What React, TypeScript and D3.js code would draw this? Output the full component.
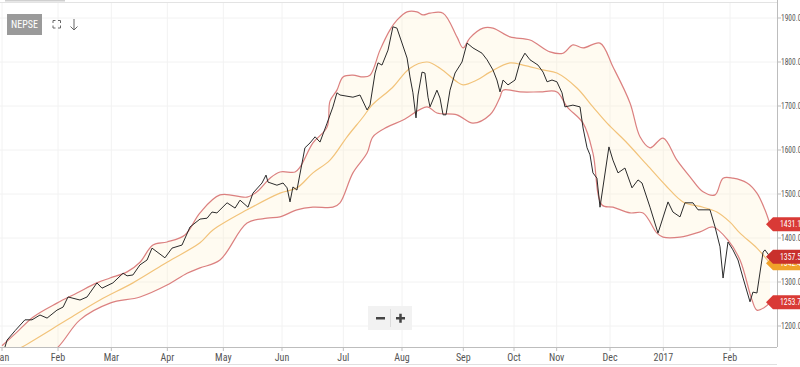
import React from "react";
import * as d3 from "d3";

// trading-day index, value
const closeSeries: [number, number][] = [
  [0, 1145], [1.1, 1152], [1.9, 1168], [5, 1190], [8.6, 1214], [11.25, 1214], [14.25, 1225], [16.9, 1218],
  [20.6, 1236], [22.9, 1243], [24.75, 1266], [29.25, 1259], [31.9, 1266], [35.6, 1298], [37.5, 1286],
  [41.6, 1298], [45.4, 1320], [46.9, 1314], [49.1, 1316], [51.75, 1339], [54.4, 1350], [56.25, 1377],
  [61.1, 1355], [63.75, 1377], [67.5, 1384], [70.5, 1425], [74.25, 1443], [76.9, 1445], [78.75, 1459],
  [80.6, 1457], [84.4, 1480], [87.4, 1468], [89.25, 1486], [92.25, 1470], [94.1, 1502], [97.5, 1525],
  [99, 1543], [99.75, 1527], [103.1, 1520], [105.4, 1525], [106.9, 1514], [108, 1482], [109.1, 1516],
  [110.6, 1509], [113.6, 1605], [115.5, 1616], [117.4, 1630], [119.25, 1618], [121.9, 1661], [124.1, 1698],
  [125.6, 1730], [126.75, 1725], [131.6, 1720], [134.25, 1725], [136.9, 1691], [138, 1702], [139.9, 1775],
  [141, 1798], [142.5, 1793], [144.75, 1827], [146.6, 1880], [148.1, 1877], [151.9, 1809], [153, 1766],
  [154.1, 1730], [155.25, 1673], [156, 1725], [157.5, 1777], [158.6, 1775], [159.75, 1720], [160.5, 1698],
  [163.1, 1736], [164.25, 1718], [165.4, 1680], [166.5, 1680], [168, 1736], [169.9, 1775], [172.5, 1800],
  [174.4, 1843], [176.6, 1832], [180, 1820], [181.9, 1805], [184.1, 1782], [185.6, 1759], [186.75, 1732],
  [187.9, 1759], [189.75, 1748], [192.4, 1759], [194.25, 1800], [196.1, 1820], [198, 1805], [201, 1793],
  [202.9, 1777], [204.4, 1755], [206.25, 1759], [208.1, 1755], [210, 1730], [211.1, 1698], [214.1, 1702],
  [216.75, 1698], [217.9, 1650], [219.4, 1605], [220.5, 1589], [221.6, 1548], [223.1, 1536], [224.25, 1470],
  [227.6, 1607], [229.1, 1577], [231, 1548], [233.6, 1559], [236.25, 1514], [238.5, 1532], [240, 1525],
  [243, 1470], [246, 1411], [249.75, 1482], [251.6, 1459], [254.25, 1448], [256.1, 1480], [259.1, 1480],
  [261, 1464], [265.5, 1464], [267.4, 1425], [269.25, 1380], [270.4, 1309], [272.25, 1391], [274.1, 1373],
  [276, 1350], [277.9, 1309], [280.5, 1255], [281.6, 1277], [283.1, 1275], [285.4, 1368], [286.1, 1373],
  [288, 1357.52],
];

const upperBand: [number, number][] = [
  [0, 1155], [5.6, 1186], [11.6, 1220], [20.6, 1252], [28.1, 1275], [35.6, 1298], [40.5, 1309], [46.9, 1323],
  [51.75, 1345], [56.6, 1384], [61.9, 1391], [68.6, 1407], [74.25, 1457], [81.75, 1498], [91.9, 1493],
  [95.6, 1505], [100.5, 1536], [104.25, 1550], [109.9, 1550], [111.75, 1561], [116.6, 1616], [121.9, 1652],
  [123, 1711], [125.6, 1736], [127.9, 1766], [131.6, 1770], [135.4, 1766], [138, 1770], [141.75, 1827],
  [145.5, 1873], [148.1, 1895], [151.9, 1914], [155.6, 1914], [157.9, 1907], [160.5, 1911], [165.4, 1911],
  [170.6, 1857], [172.9, 1832], [175.5, 1855], [180.4, 1877], [184.1, 1877], [190.5, 1857], [198, 1850],
  [205.5, 1823], [210.4, 1820], [214.1, 1839], [217.9, 1832], [224.25, 1843], [229.1, 1789], [235.5, 1707],
  [239.25, 1630], [243, 1605], [247.9, 1627], [253.1, 1577], [258, 1539], [262.9, 1505], [267.4, 1498],
  [270.4, 1536], [274.1, 1536], [279.4, 1525], [283.1, 1502], [286.1, 1464], [288, 1431.11],
];

const middleBand: [number, number][] = [
  [0, 1127], [7.5, 1152], [24.4, 1214], [36.75, 1259], [49.1, 1298], [61.9, 1345], [74.25, 1389],
  [79.1, 1418], [91.9, 1464], [104.25, 1502], [110.6, 1514], [116.6, 1548], [123, 1577], [129.4, 1630],
  [135.4, 1675], [138.75, 1702], [146.25, 1741], [153, 1786], [159.4, 1800], [164.25, 1786], [170.6, 1755],
  [172.9, 1748], [178.1, 1759], [183, 1777], [190.5, 1798], [195.4, 1793], [202.9, 1782], [208.1, 1775],
  [215.6, 1741], [221.6, 1698], [226.9, 1661], [234.4, 1616], [241.9, 1566], [249.4, 1516], [255.4, 1482],
  [262.9, 1470], [268.1, 1459], [273, 1436], [276.75, 1411], [283.1, 1377], [288, 1342.42],
];

const lowerBand: [number, number][] = [
  [10, 1100], [21, 1152], [29.25, 1214], [40.5, 1252], [51.75, 1266], [61.9, 1293], [69.4, 1320],
  [74.25, 1332], [81.75, 1350], [91.9, 1434], [99.4, 1445], [104.25, 1448], [110.6, 1464], [116.6, 1470],
  [124.1, 1470], [126.75, 1480], [131.6, 1548], [136.9, 1593], [139.1, 1630], [144.4, 1652], [150.4, 1668],
  [159.4, 1698], [163.1, 1684], [170.6, 1680], [176.6, 1661], [183, 1680], [186.75, 1720], [187.9, 1736],
  [194.25, 1732], [201.75, 1732], [208.1, 1732], [211.9, 1698], [217.9, 1661], [221.6, 1593], [225, 1475],
  [229.1, 1470], [235.5, 1457], [240.4, 1457], [245.6, 1411], [247.9, 1402], [254.25, 1402], [261.75, 1414],
  [266.6, 1425], [272.25, 1395], [276.75, 1350], [281.25, 1259], [283.1, 1236], [286.1, 1243], [288, 1253.73],
];

const monthTicks = [0, 21, 41, 62, 83, 105, 128, 150, 173, 192, 208, 228, 248, 273];
const monthLabels = ["Jan", "Feb", "Mar", "Apr", "May", "Jun", "Jul", "Aug", "Sep", "Oct", "Nov", "Dec", "2017", "Feb"];
const yTicks = [1200, 1300, 1400, 1500, 1600, 1700, 1800, 1900];
const seriesName = "NEPSE";

const W = 800;
const H = 367;
const FONT = "'Liberation Sans Narrow', 'Roboto Condensed', 'Roboto', Arial, sans-serif";

export default function App() {
  const plotLeft = 0;
  const plotRight = 777;
  const plotTop = 3;
  const plotBottom = 347;

  const x = d3.scaleLinear().domain([0, 288]).range([2, 770]);
  const y = d3.scaleLinear().domain([1200, 1900]).range([326, 18]);

  const curve = d3.curveCatmullRom.alpha(0.5);
  const bandLine = d3
    .line<[number, number]>()
    .x((d) => x(d[0]))
    .y((d) => y(d[1]))
    .curve(curve);
  const closeLine = d3
    .line<[number, number]>()
    .x((d) => x(d[0]))
    .y((d) => y(d[1]));

  const upperPath = bandLine(upperBand) || "";
  const lowerRev = bandLine([...lowerBand].reverse()) || "";
  const fillPath = upperPath + "L" + lowerRev.slice(1) + "Z";

  const lastUpper = upperBand[upperBand.length - 1][1];
  const lastLower = lowerBand[lowerBand.length - 1][1];
  const lastMid = middleBand[middleBand.length - 1][1];
  const lastClose = closeSeries[closeSeries.length - 1][1];

  const tag = (v: number, color: string, key: string) => {
    const cy = y(v);
    const x0 = 766;
    const h = 14;
    const d = `M${x0},${cy} L${x0 + 7},${cy - h / 2} L${W + 2},${cy - h / 2} L${W + 2},${cy + h / 2} L${x0 + 7},${cy + h / 2} Z`;
    return (
      <g key={key}>
        <path d={d} fill={color} />
        <text x={780} y={cy + 3} fill="#fff" fontSize={8.5} fontFamily={FONT} textLength={25} lengthAdjust="spacingAndGlyphs">
          {v.toFixed(2)}
        </text>
      </g>
    );
  };

  return (
    <div style={{ position: "absolute", left: 0, top: 0 }}>
      <style>{`body{margin:0}`}</style>
      <svg width={W} height={H} style={{ display: "block", background: "#fff" }}>
        <defs>
          <clipPath id="plotClip">
            <rect x={plotLeft} y={plotTop} width={plotRight - plotLeft} height={plotBottom - plotTop} />
          </clipPath>
        </defs>

        {/* top border */}
        <line x1={0} x2={plotRight} y1={2.5} y2={2.5} stroke="#e3e3e3" />
        <rect x={5} y={0} width={60} height={1.5} fill="#cfcfcf" />

        {/* grid */}
        {yTicks.map((t) => (
          <line key={"gy" + t} x1={plotLeft} x2={plotRight} y1={y(t)} y2={y(t)} stroke="#f2f2f2" />
        ))}
        {monthTicks.map((t, i) => (
          <line key={"gx" + i} x1={x(t)} x2={x(t)} y1={plotTop} y2={plotBottom} stroke="#f2f2f2" />
        ))}

        <g clipPath="url(#plotClip)">
          <path d={fillPath} fill="#fff0cc" fillOpacity={0.28} stroke="none" />
          <path d={upperPath} fill="none" stroke="#d77272" strokeWidth={1.2} strokeOpacity={0.9} />
          <path d={bandLine(lowerBand) || ""} fill="none" stroke="#d77272" strokeWidth={1.2} strokeOpacity={0.9} />
          <path d={bandLine(middleBand) || ""} fill="none" stroke="#f2c37a" strokeWidth={1.2} />
          <path d={closeLine(closeSeries) || ""} fill="none" stroke="#2b2b2b" strokeWidth={1} />
        </g>

        {/* right axis */}
        <line x1={plotRight + 0.5} x2={plotRight + 0.5} y1={0} y2={plotBottom} stroke="#bdbdbd" />
        {yTicks.map((t) => (
          <g key={"yt" + t}>
            <line x1={plotRight} x2={plotRight + 4} y1={y(t)} y2={y(t)} stroke="#bdbdbd" />
            <text x={781} y={y(t) + 3} fontSize={8.5} fill="#555" fontFamily={FONT} textLength={24} lengthAdjust="spacingAndGlyphs">
              {t.toFixed(2)}
            </text>
          </g>
        ))}

        {/* bottom axis */}
        <line x1={0} x2={plotRight} y1={plotBottom + 0.5} y2={plotBottom + 0.5} stroke="#bdbdbd" />
        {monthTicks.map((t, i) => (
          <g key={"xt" + i}>
            <line x1={x(t)} x2={x(t)} y1={plotBottom} y2={plotBottom + 4} stroke="#bdbdbd" />
            <text x={x(t)} y={361} fontSize={10} fill="#555" textAnchor="middle" fontFamily={FONT}>
              {monthLabels[i]}
            </text>
          </g>
        ))}
        <line x1={0} x2={plotRight} y1={364.5} y2={364.5} stroke="#e0e0e0" />

        {/* price tags */}
        {tag(lastUpper, "#d93a36", "up")}
        {tag(lastLower, "#d93a36", "lo")}
        {tag(lastMid, "#f0a12a", "mid")}
        {tag(lastClose, "#c9302c", "cl")}

        {/* top-left controls */}
        <rect x={7} y={14} width={35} height={21} fill="#9a9a9a" />
        <text x={24.5} y={28} fontSize={10} fill="#fff" textAnchor="middle" fontFamily={FONT}>
          {seriesName}
        </text>
        <g stroke="#666" strokeWidth={1} fill="none">
          <path d="M53,23 V20.5 H55.5 M58,20.5 H60.5 V23 M60.5,25.5 V28 H58 M55.5,28 H53 V25.5" />
          <path d="M74,19 V30 M70.5,26.5 L74,30 L77.5,26.5" />
        </g>

        {/* zoom buttons */}
        <rect x={368} y={306} width={44} height={24} fill="#f2f2f2" />
        <line x1={390.5} x2={390.5} y1={309} y2={327} stroke="#dcdcdc" />
        <rect x={376} y={317} width={9} height={2.5} fill="#444" />
        <rect x={396} y={317} width={9} height={2.5} fill="#444" />
        <rect x={399.25} y={313.75} width={2.5} height={9} fill="#444" />
      </svg>
    </div>
  );
}
